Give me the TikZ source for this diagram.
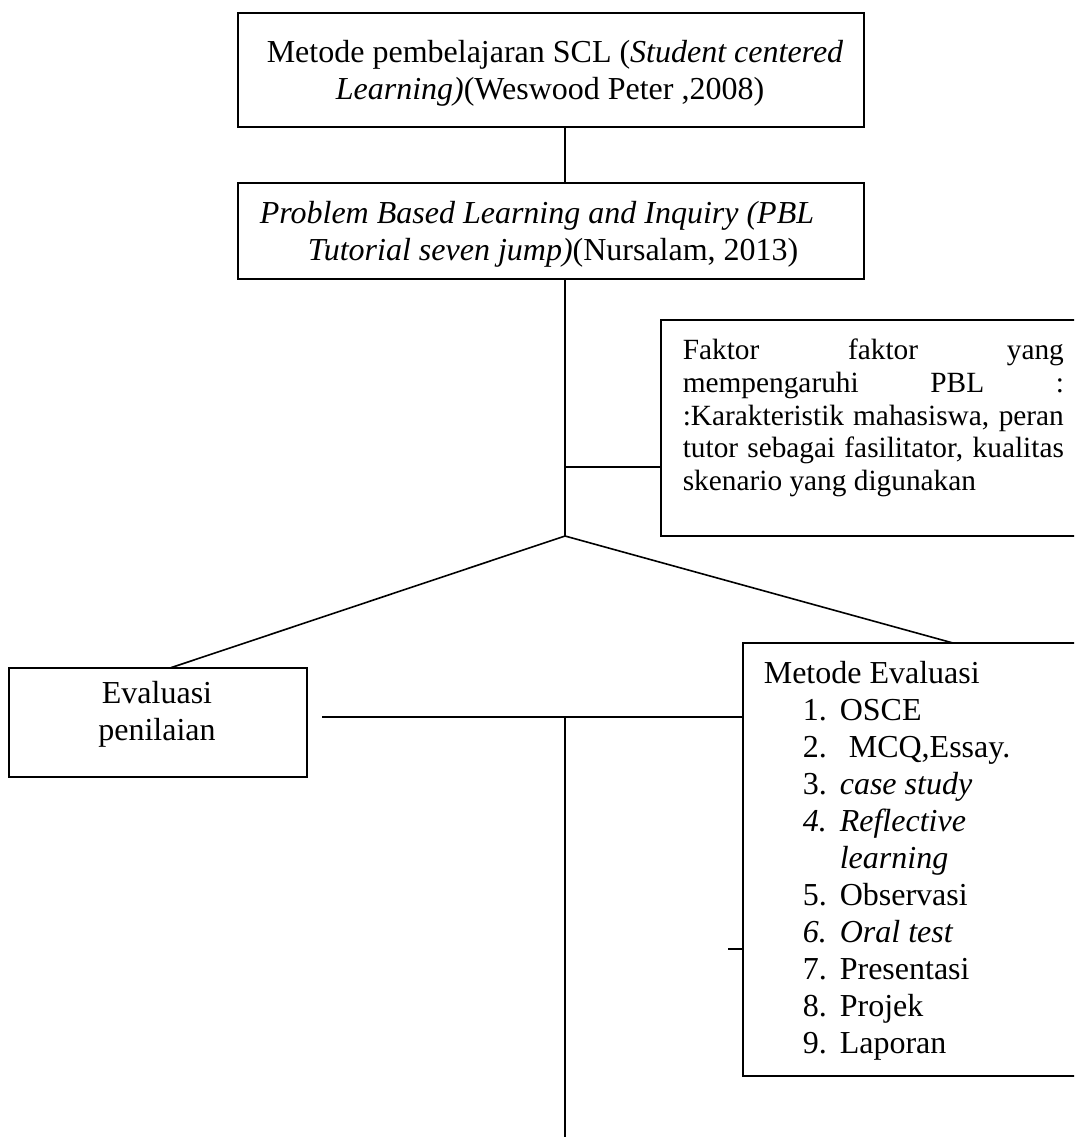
\documentclass[tikz,border=0pt]{standalone}
\usepackage{fontspec}
\setmainfont{Liberation Serif}
\usetikzlibrary{fit}
\begin{document}
\begin{tikzpicture}[x=0.375pt,y=-0.375pt,
  line width=0.6pt,
  box/.style={draw,line width=0.6pt,inner sep=0pt},
  txt/.style={anchor=base west,inner sep=0pt,font=\fontsize{12pt}{13.8pt}\selectfont},
  stxt/.style={anchor=base west,inner sep=0pt,font=\fontsize{11pt}{12.6pt}\selectfont},
  ctxt/.style={anchor=base,inner sep=0pt,font=\fontsize{12pt}{13.8pt}\selectfont}]
\clip (0,0) rectangle (1074,1139);
\fill[white] (0,0) rectangle (1074,1139);

% corner coordinates of boxes
\coordinate (topA) at (238,13);   \coordinate (topB) at (864,127);
\coordinate (pblA) at (238,183);  \coordinate (pblB) at (864,279);
\coordinate (fakA) at (661,320);  \coordinate (fakB) at (1110,536);
\coordinate (evaA) at (9,668);    \coordinate (evaB) at (307,777);
\coordinate (metA) at (743,643);  \coordinate (metB) at (1110,1076);

% boxes
\node[box, fit=(topA)(topB)] (top) {};
\node[box, fit=(pblA)(pblB)] (pbl) {};
\node[box, fit=(fakA)(fakB)] (faktor) {};
\node[box, fit=(evaA)(evaB)] (eval) {};
\node[box, fit=(metA)(metB)] (metode) {};

% coordinates
\coordinate (apex) at (565,536);
\coordinate (fk) at (565,467);
\coordinate (etop) at (170,668);
\coordinate (mtop) at (953,643);
\coordinate (hstart) at (322,717);
\coordinate (vb) at (565,1137);
\coordinate (tick) at (728,949);

% connectors
\draw (top.south -| apex) -- (pbl.north -| apex);
\draw (pbl.south -| apex) -- (apex);
\draw (fk) -- (fk -| faktor.west);
\draw (apex) -- (etop);
\draw (apex) -- (mtop);
\draw (hstart) -- (hstart -| metode.west);
\draw (hstart -| apex) -- (vb);
\draw (tick) -- (tick -| metode.west);

% top box text
\node[txt] (t1) at (266,62) {Metode pembelajaran SCL (\textit{Student centered}};
\node[txt] (t2) at (335,99) {\textit{Learning)}(Weswood Peter ,2008)};

% pbl text
\node[txt] (p1) at (259,223) {\textit{Problem Based Learning and Inquiry (PBL}};
\node[txt] (p2) at (307,260) {\textit{Tutorial seven jump)}(Nursalam, 2013)};

% faktor text
\node[stxt] (f1) at (682,359) {\makebox[142.9pt][s]{Faktor faktor yang}};
\node[stxt] (f2) at (682,392) {\makebox[142.9pt][s]{mempengaruhi PBL :}};
\node[stxt] (f3) at (682,425) {\makebox[142.9pt][s]{:Karakteristik mahasiswa, peran}};
\node[stxt] (f4) at (682,457) {\makebox[142.9pt][s]{tutor sebagai fasilitator, kualitas}};
\node[stxt] (f5) at (682,490) {skenario yang digunakan};

% eval text
\node[ctxt] (e1) at (157,703) {Evaluasi};
\node[ctxt] (e2) at (157,740) {penilaian};

% metode text
\node[txt] (m0) at (763,683) {Metode Evaluasi};
\node[txt] (n1) at (802,720) {1.};
\node[txt] (i1) at (839,720) {OSCE};
\node[txt] (n2) at (802,757) {2.};
\node[txt] (i2) at (848,757) {MCQ,Essay.};
\node[txt] (n3) at (802,794) {3.};
\node[txt] (i3) at (839,794) {\textit{case study}};
\node[txt] (n4) at (802,831) {\textit{4.}};
\node[txt] (i4) at (839,831) {\textit{Reflective}};
\node[txt] (i4b) at (839,868) {\textit{learning}};
\node[txt] (n5) at (802,905) {5.};
\node[txt] (i5) at (839,905) {Observasi};
\node[txt] (n6) at (802,942) {\textit{6.}};
\node[txt] (i6) at (839,942) {\textit{Oral test}};
\node[txt] (n7) at (802,979) {7.};
\node[txt] (i7) at (839,979) {Presentasi};
\node[txt] (n8) at (802,1016) {8.};
\node[txt] (i8) at (839,1016) {Projek};
\node[txt] (n9) at (802,1053) {9.};
\node[txt] (i9) at (839,1053) {Laporan};
\end{tikzpicture}
\end{document}
